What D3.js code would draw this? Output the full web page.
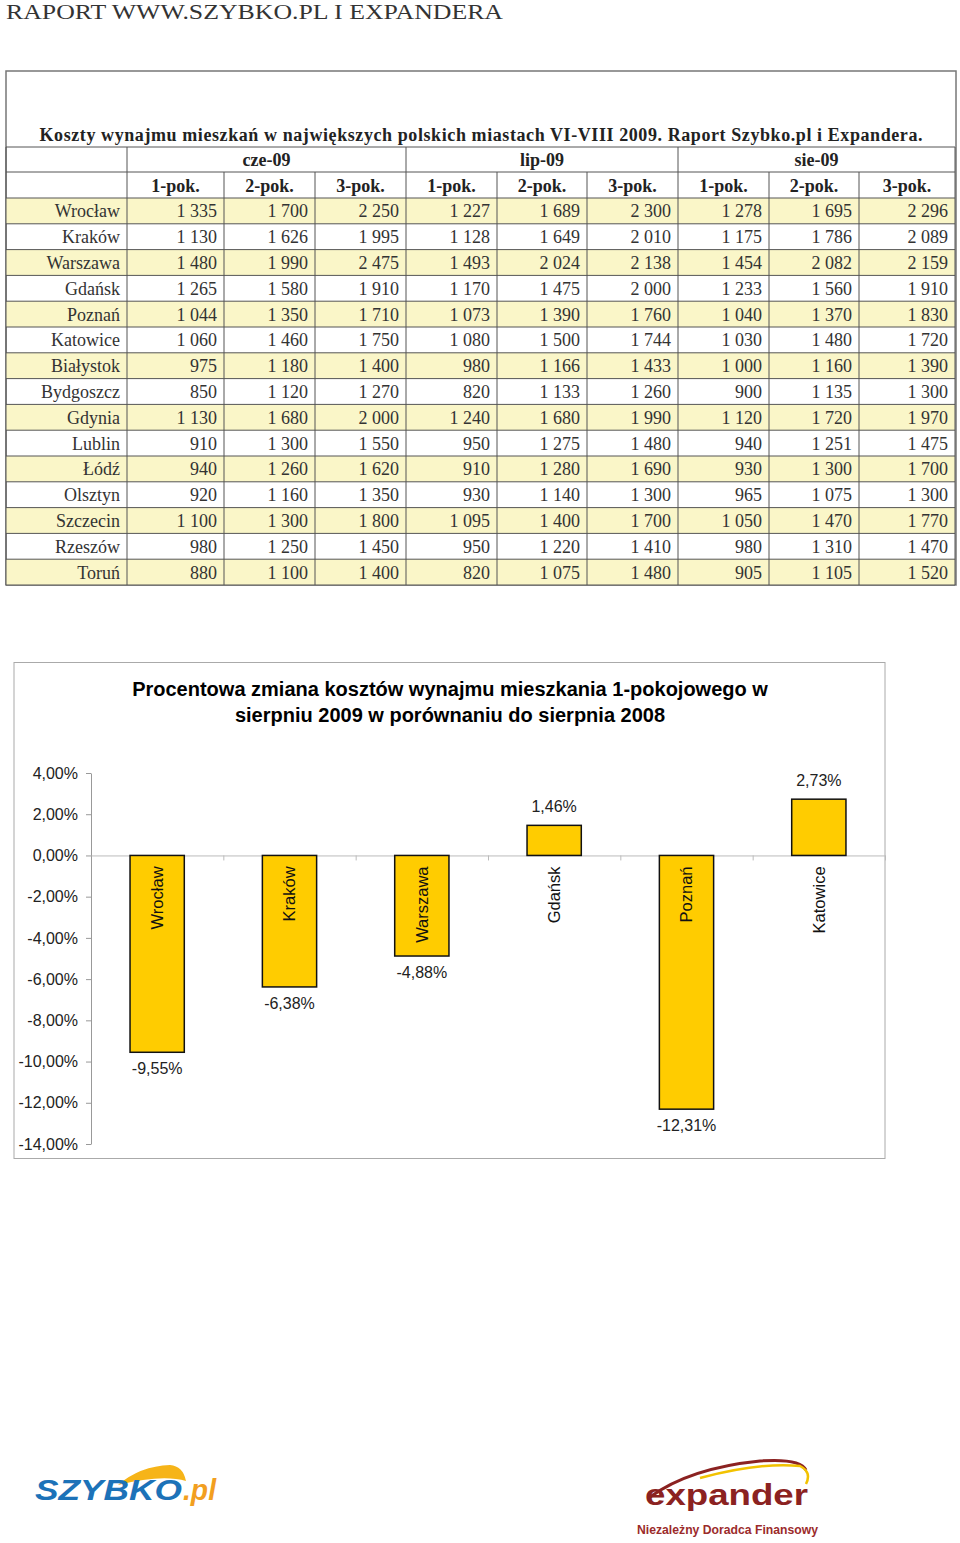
<!DOCTYPE html>
<html>
<head>
<meta charset="utf-8">
<script src="https://cdn.jsdelivr.net/npm/d3@7"></script>
<style>
body { margin: 0; background: #fff; }
svg { display: block; }
</style>
</head>
<body>
<svg></svg>
<script>
// table data
var months = ['cze-09', 'lip-09', 'sie-09'];
var roomTypes = ['1-pok.', '2-pok.', '3-pok.'];
var cities = ['Wrocław', 'Kraków', 'Warszawa', 'Gdańsk', 'Poznań', 'Katowice', 'Białystok', 'Bydgoszcz',
  'Gdynia', 'Lublin', 'Łódź', 'Olsztyn', 'Szczecin', 'Rzeszów', 'Toruń'];
var cze09 = [[1335, 1700, 2250], [1130, 1626, 1995], [1480, 1990, 2475], [1265, 1580, 1910], [1044, 1350, 1710],
  [1060, 1460, 1750], [975, 1180, 1400], [850, 1120, 1270], [1130, 1680, 2000], [910, 1300, 1550],
  [940, 1260, 1620], [920, 1160, 1350], [1100, 1300, 1800], [980, 1250, 1450], [880, 1100, 1400]];
var lip09 = [[1227, 1689, 2300], [1128, 1649, 2010], [1493, 2024, 2138], [1170, 1475, 2000], [1073, 1390, 1760],
  [1080, 1500, 1744], [980, 1166, 1433], [820, 1133, 1260], [1240, 1680, 1990], [950, 1275, 1480],
  [910, 1280, 1690], [930, 1140, 1300], [1095, 1400, 1700], [950, 1220, 1410], [820, 1075, 1480]];
var sie09 = [[1278, 1695, 2296], [1175, 1786, 2089], [1454, 2082, 2159], [1233, 1560, 1910], [1040, 1370, 1830],
  [1030, 1480, 1720], [1000, 1160, 1390], [900, 1135, 1300], [1120, 1720, 1970], [940, 1251, 1475],
  [930, 1300, 1700], [965, 1075, 1300], [1050, 1470, 1770], [980, 1310, 1470], [905, 1105, 1520]];

// chart data
var chartCities = ['Wrocław', 'Kraków', 'Warszawa', 'Gdańsk', 'Poznań', 'Katowice'];
var chartChange = [-9.55, -6.38, -4.88, 1.46, -12.31, 2.73];
var chartTicks = [4, 2, 0, -2, -4, -6, -8, -10, -12, -14];

var pl = d3.formatLocale({ decimal: ',', thousands: ' ', grouping: [3], currency: ['', ''], minus: '-' });
var fmtNum = pl.format(',');
var fmtPct = function(v) { return pl.format('.2f')(v) + '%'; };

var serif = '"Liberation Serif", "DejaVu Serif", serif';
var sans = '"Liberation Sans", Arial, sans-serif';

var svg = d3.select('svg').attr('width', 960).attr('height', 1543);

svg.append('text').attr('x', 6).attr('y', 19)
  .attr('font-family', serif).attr('font-size', 21.5).attr('fill', '#333')
  .attr('textLength', 497).attr('lengthAdjust', 'spacingAndGlyphs')
  .text('RAPORT WWW.SZYBKO.PL I EXPANDERA');

// ---- table ----
var table = svg.append('g');
var colEdges = [127, 224, 315, 406, 497, 587, 678, 769, 859, 955];
var row = d3.scaleBand().domain(cities).range([198, 585]);
var gridColor = '#555';

table.append('rect').attr('x', 6).attr('y', 71).attr('width', 950).attr('height', 514)
  .attr('fill', 'none').attr('stroke', '#777').attr('stroke-width', 1.5);

table.append('text').attr('x', 481).attr('y', 141).attr('text-anchor', 'middle')
  .attr('font-family', serif).attr('font-weight', 'bold').attr('font-size', 18).attr('fill', '#222')
  .attr('textLength', 883).attr('lengthAdjust', 'spacing')
  .text('Koszty wynajmu mieszkań w największych polskich miastach VI-VIII 2009. Raport Szybko.pl i Expandera.');

// row stripes
table.selectAll('rect.stripe').data(cities.filter(function(d, i) { return i % 2 == 0; }))
  .enter().append('rect').attr('class', 'stripe')
  .attr('x', 6).attr('width', 949).attr('y', function(d) { return row(d); })
  .attr('height', row.bandwidth()).attr('fill', '#FAF6C8');

// horizontal lines
var hLines = [147, 172].concat(cities.map(function(d) { return row(d); })).concat([585]);
table.selectAll('line.h').data(hLines).enter().append('line')
  .attr('x1', 6).attr('x2', 955).attr('y1', function(d) { return d; }).attr('y2', function(d) { return d; })
  .attr('stroke', gridColor).attr('stroke-width', 1);

// vertical lines: month header only at group edges
[127, 406, 678, 955].forEach(function(x) {
  table.append('line').attr('x1', x).attr('x2', x).attr('y1', 147).attr('y2', 172).attr('stroke', gridColor);
});
colEdges.forEach(function(x) {
  table.append('line').attr('x1', x).attr('x2', x).attr('y1', 172).attr('y2', 585).attr('stroke', gridColor);
});
table.append('line').attr('x1', 6).attr('x2', 6).attr('y1', 147).attr('y2', 585).attr('stroke', gridColor);

// header texts
months.forEach(function(m, mi) {
  table.append('text').attr('x', (colEdges[mi * 3] + colEdges[mi * 3 + 3]) / 2).attr('y', 166)
    .attr('text-anchor', 'middle').attr('font-family', serif).attr('font-weight', 'bold')
    .attr('font-size', 18).attr('fill', '#222').text(m);
  roomTypes.forEach(function(r, ri) {
    var c = mi * 3 + ri;
    table.append('text').attr('x', (colEdges[c] + colEdges[c + 1]) / 2).attr('y', 192)
      .attr('text-anchor', 'middle').attr('font-family', serif).attr('font-weight', 'bold')
      .attr('font-size', 18).attr('fill', '#222').text(r);
  });
});

var monthData = [cze09, lip09, sie09];
cities.forEach(function(city, i) {
  var yb = row(city) + row.bandwidth() / 2 + 6.5;
  table.append('text').attr('x', 120).attr('y', yb).attr('text-anchor', 'end')
    .attr('font-family', serif).attr('font-size', 18).attr('fill', '#333').text(city);
  monthData.forEach(function(md, mi) {
    md[i].forEach(function(v, ri) {
      var c = mi * 3 + ri;
      table.append('text').attr('x', colEdges[c + 1] - 7).attr('y', yb).attr('text-anchor', 'end')
        .attr('font-family', serif).attr('font-size', 18).attr('fill', '#333').text(fmtNum(v));
    });
  });
});

// ---- chart ----
var chart = svg.append('g');
chart.append('rect').attr('x', 14).attr('y', 662.5).attr('width', 871).attr('height', 496)
  .attr('fill', '#fff').attr('stroke', '#aaa').attr('stroke-width', 1);

chart.append('text').attr('text-anchor', 'middle').attr('font-family', sans).attr('font-weight', 'bold')
  .attr('font-size', 20).attr('fill', '#000')
  .selectAll('tspan').data(['Procentowa zmiana kosztów wynajmu mieszkania 1-pokojowego w',
    'sierpniu 2009 w porównaniu do sierpnia 2008'])
  .enter().append('tspan').attr('x', 450).attr('y', function(d, i) { return 696 + i * 26; })
  .text(function(d) { return d; });

var x = d3.scaleBand().domain(chartCities).range([91, 885]).paddingInner(0.59).paddingOuter(0.295);
var y = d3.scaleLinear().domain([-14, 4]).range([1144, 773]);

var yAxis = chart.append('g').attr('transform', 'translate(91,0)')
  .call(d3.axisLeft(y).tickValues(chartTicks).tickSize(5).tickSizeOuter(0).tickPadding(8).tickFormat(fmtPct));
yAxis.select('.domain').attr('stroke', '#999');
yAxis.selectAll('.tick line').attr('stroke', '#999');
yAxis.selectAll('.tick text').attr('font-family', sans).attr('font-size', 16).attr('fill', '#222');

// category axis on zero line
var xc = d3.scaleLinear().domain([0, chartCities.length]).range([91, 885]);
var xAxis = chart.append('g').attr('transform', 'translate(0,' + y(0) + ')')
  .call(d3.axisBottom(xc).tickValues(d3.range(1, chartCities.length + 1)).tickSize(5).tickSizeOuter(0).tickFormat(''));
xAxis.select('.domain').attr('stroke', '#bbb');
xAxis.selectAll('.tick line').attr('stroke', '#bbb');

var bars = chart.selectAll('g.bar').data(chartCities).enter().append('g').attr('class', 'bar');
bars.append('rect')
  .attr('x', function(d) { return x(d); })
  .attr('width', x.bandwidth())
  .attr('y', function(d, i) { return y(Math.max(0, chartChange[i])); })
  .attr('height', function(d, i) { return Math.abs(y(chartChange[i]) - y(0)); })
  .attr('fill', '#FFCC00').attr('stroke', '#111').attr('stroke-width', 1.5);

bars.append('text')
  .attr('x', function(d) { return x(d) + x.bandwidth() / 2; })
  .attr('y', function(d, i) { var v = chartChange[i]; return v < 0 ? y(v) + 22 : y(v) - 13; })
  .attr('text-anchor', 'middle').attr('font-family', sans).attr('font-size', 16).attr('fill', '#222')
  .text(function(d, i) { return fmtPct(chartChange[i]); });

bars.append('text')
  .attr('transform', function(d) { return 'translate(' + (x(d) + x.bandwidth() / 2) + ',' + (y(0) + 11) + ') rotate(-90)'; })
  .attr('dy', '0.35em').attr('text-anchor', 'end').attr('font-family', sans).attr('font-size', 16.5).attr('fill', '#111')
  .text(function(d) { return d; });

// ---- logos ----
var szybko = svg.append('g');
szybko.append('path').attr('d', 'M118,1485 Q140,1466 170,1465 Q183,1466 186,1481 Q162,1474 118,1485 Z')
  .attr('fill', '#F6B418');
szybko.append('text').attr('x', 35).attr('y', 1500).attr('font-family', sans).attr('font-weight', 'bold')
  .attr('font-style', 'italic').attr('font-size', 30).attr('fill', '#1C72B8')
  .attr('textLength', 147).attr('lengthAdjust', 'spacingAndGlyphs').text('SZYBKO');
szybko.append('text').attr('x', 183).attr('y', 1500).attr('font-family', sans).attr('font-weight', 'bold')
  .attr('font-style', 'italic').attr('font-size', 30).attr('fill', '#F29F1F')
  .attr('textLength', 33).attr('lengthAdjust', 'spacingAndGlyphs').text('.pl');

var expander = svg.append('g');
expander.append('path').attr('d', 'M650,1497 Q690,1468 760,1461 Q800,1458 806,1470')
  .attr('fill', 'none').attr('stroke', '#8B2221').attr('stroke-width', 3);
expander.append('path').attr('d', 'M700,1478 Q760,1462 800,1466 Q812,1472 806,1484')
  .attr('fill', 'none').attr('stroke', '#F2C200').attr('stroke-width', 2.5);
expander.append('text').attr('x', 645).attr('y', 1505).attr('font-family', sans)
  .attr('font-weight', 'bold').attr('font-size', 30).attr('fill', '#8B2221')
  .attr('textLength', 163).attr('lengthAdjust', 'spacingAndGlyphs').text('expander');
expander.append('text').attr('x', 637).attr('y', 1534).attr('font-family', sans).attr('font-weight', 'bold')
  .attr('font-size', 12.5).attr('fill', '#9B2B2B')
  .attr('textLength', 181).attr('lengthAdjust', 'spacingAndGlyphs').text('Niezależny Doradca Finansowy');
</script>
</body>
</html>
